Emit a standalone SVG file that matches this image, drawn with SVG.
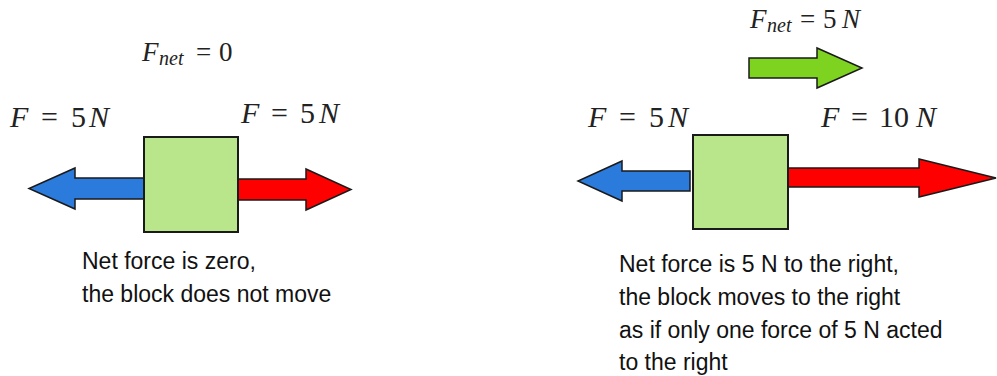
<svg xmlns="http://www.w3.org/2000/svg" width="997" height="376" viewBox="0 0 997 376">
<style>
.math{font-family:"Liberation Serif","DejaVu Serif",serif;font-size:30px;fill:#222}
.net{font-size:27px}
.it{font-style:italic}
.sub{font-style:italic;font-size:20px}
.body{font-family:"Liberation Sans",Arial,sans-serif;font-size:23px;fill:#111}
.block{fill:#b9e68a;stroke:#1a1a1a;stroke-width:2}
.arrow{stroke:#1a1a1a;stroke-width:1.5;stroke-linejoin:miter}
.blue{fill:#2b7bdc}
.red{fill:#ff0000}
.green{fill:#7ed321}
</style>
<rect width="997" height="376" fill="#fff"/>
<g id="connectors">
  <polygon id="left-blue" class="arrow blue" points="144,178 75,178 75,168 29,188.5 75,209 75,199 144,199"/>
  <polygon id="left-red" class="arrow red" points="238,179 306,179 306,169 351,189.5 306,210 306,200 238,200"/>
  <polygon id="right-blue" class="arrow blue" points="690,171 622,171 622,161 578,181 622,201 622,191 690,191"/>
  <polygon id="right-red" class="arrow red" points="788,168 919,168 919,159 996,178 919,197 919,187 788,187"/>
  <polygon id="net-green" class="arrow green" points="749,58 817,58 817,48 862,68 817,88 817,78 749,78"/>
</g>
<g id="block-left">
  <rect class="block" x="144" y="137" width="94" height="95"/>
</g>
<g id="block-right">
  <rect class="block" x="693" y="135" width="95" height="94"/>
</g>
<g id="label-fnet0">
  <text class="math net" y="61"><tspan class="it" x="142">F</tspan><tspan class="sub" x="159" y="65">net</tspan><tspan x="196" y="61">=</tspan><tspan x="219">0</tspan></text>
</g>
<g id="label-left-f">
  <text class="math" y="127"><tspan class="it" x="10">F</tspan><tspan x="41">=</tspan><tspan x="71">5</tspan><tspan class="it" x="89">N</tspan></text>
</g>
<g id="label-left-f2">
  <text class="math" y="123"><tspan class="it" x="241">F</tspan><tspan x="271">=</tspan><tspan x="300">5</tspan><tspan class="it" x="319">N</tspan></text>
</g>
<g id="label-fnet5">
  <text class="math net" y="28"><tspan class="it" x="750">F</tspan><tspan class="sub" x="767" y="32">net</tspan><tspan x="800" y="28">=</tspan><tspan x="823">5</tspan><tspan class="it" x="842">N</tspan></text>
</g>
<g id="label-right-f5">
  <text class="math" y="127"><tspan class="it" x="588">F</tspan><tspan x="619">=</tspan><tspan x="649">5</tspan><tspan class="it" x="668">N</tspan></text>
</g>
<g id="label-right-f10">
  <text class="math" y="127"><tspan class="it" x="821">F</tspan><tspan x="851">=</tspan><tspan x="879">10</tspan><tspan class="it" x="916">N</tspan></text>
</g>
<g id="caption-left">
  <text class="body" x="82" y="269">Net force is zero,</text>
  <text class="body" x="82" y="302">the block does not move</text>
</g>
<g id="caption-right">
  <text class="body" x="619" y="272">Net force is 5 N to the right,</text>
  <text class="body" x="619" y="305">the block moves to the right</text>
  <text class="body" x="619" y="338">as if only one force of 5 N acted</text>
  <text class="body" x="619" y="370">to the right</text>
</g>
</svg>
